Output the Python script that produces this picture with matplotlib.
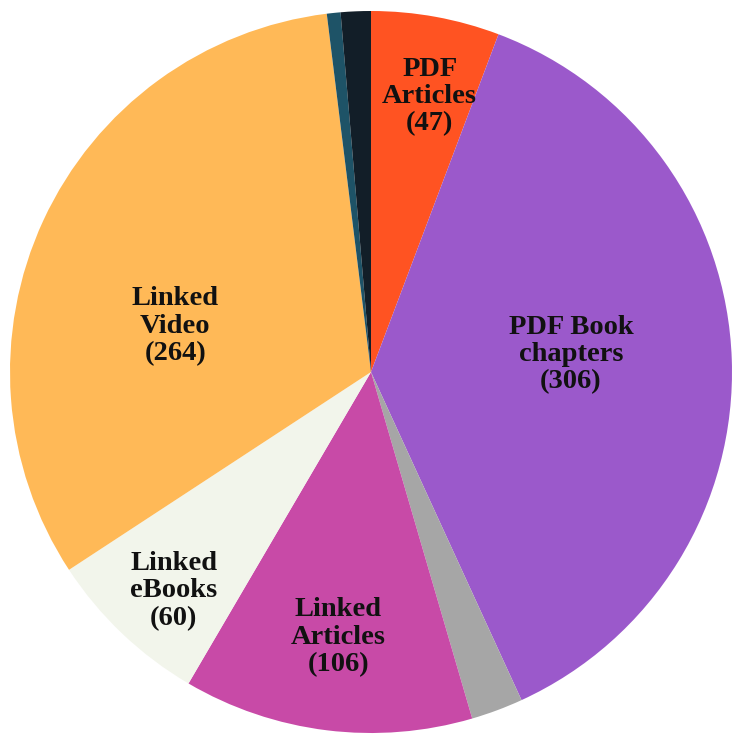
import numpy as np
import matplotlib
matplotlib.use("Agg")
import matplotlib.pyplot as plt

# slices, clockwise from 12 o'clock
labels = ["PDF\nArticles", "PDF Book\nchapters", "", "Linked\nArticles",
          "Linked\neBooks", "Linked\nVideo", "", ""]
values = [47, 306, 19, 106, 60, 264, 5, 11]
colors = ["#FF5322", "#9B59CB", "#A6A6A6", "#C84AA7",
          "#F2F5EB", "#FFB957", "#1E5367", "#121E28"]

# label placement: radius fraction and angle shift (deg, clockwise)
label_r = [0.78, 0.556, 0, 0.74, 0.816, 0.557, 0, 0]
label_shift = [1.7, -3.0, 0, 0, -1.5, -11.7, 0, 0]

plt.rcParams['font.family'] = ['Liberation Serif', 'DejaVu Serif']

fig = plt.figure(figsize=(7.32, 7.34), dpi=100)
R = 361
ax = fig.add_axes([(371 - R) / 732, (362 - R) / 734, 2 * R / 732, 2 * R / 734])
wedges, _ = ax.pie(values, colors=colors, startangle=90, counterclock=False,
                   radius=1, wedgeprops=dict(linewidth=0))
ax.set_xlim(-1, 1)
ax.set_ylim(-1, 1)
ax.set_aspect('equal')
ax.axis('off')

total = sum(values)
start = 0.0
for lab, v, r, sh in zip(labels, values, label_r, label_shift):
    span = v / total * 360
    mid = start + span / 2 + sh
    start += span
    if not lab:
        continue
    a = np.deg2rad(mid)
    ax.text(r * np.sin(a), r * np.cos(a), f"{lab}\n({v})", ha='center', va='center',
            fontsize=20.5, fontweight='bold', color='#111111', linespacing=1.13)

fig.savefig("out.png", dpi=100)
